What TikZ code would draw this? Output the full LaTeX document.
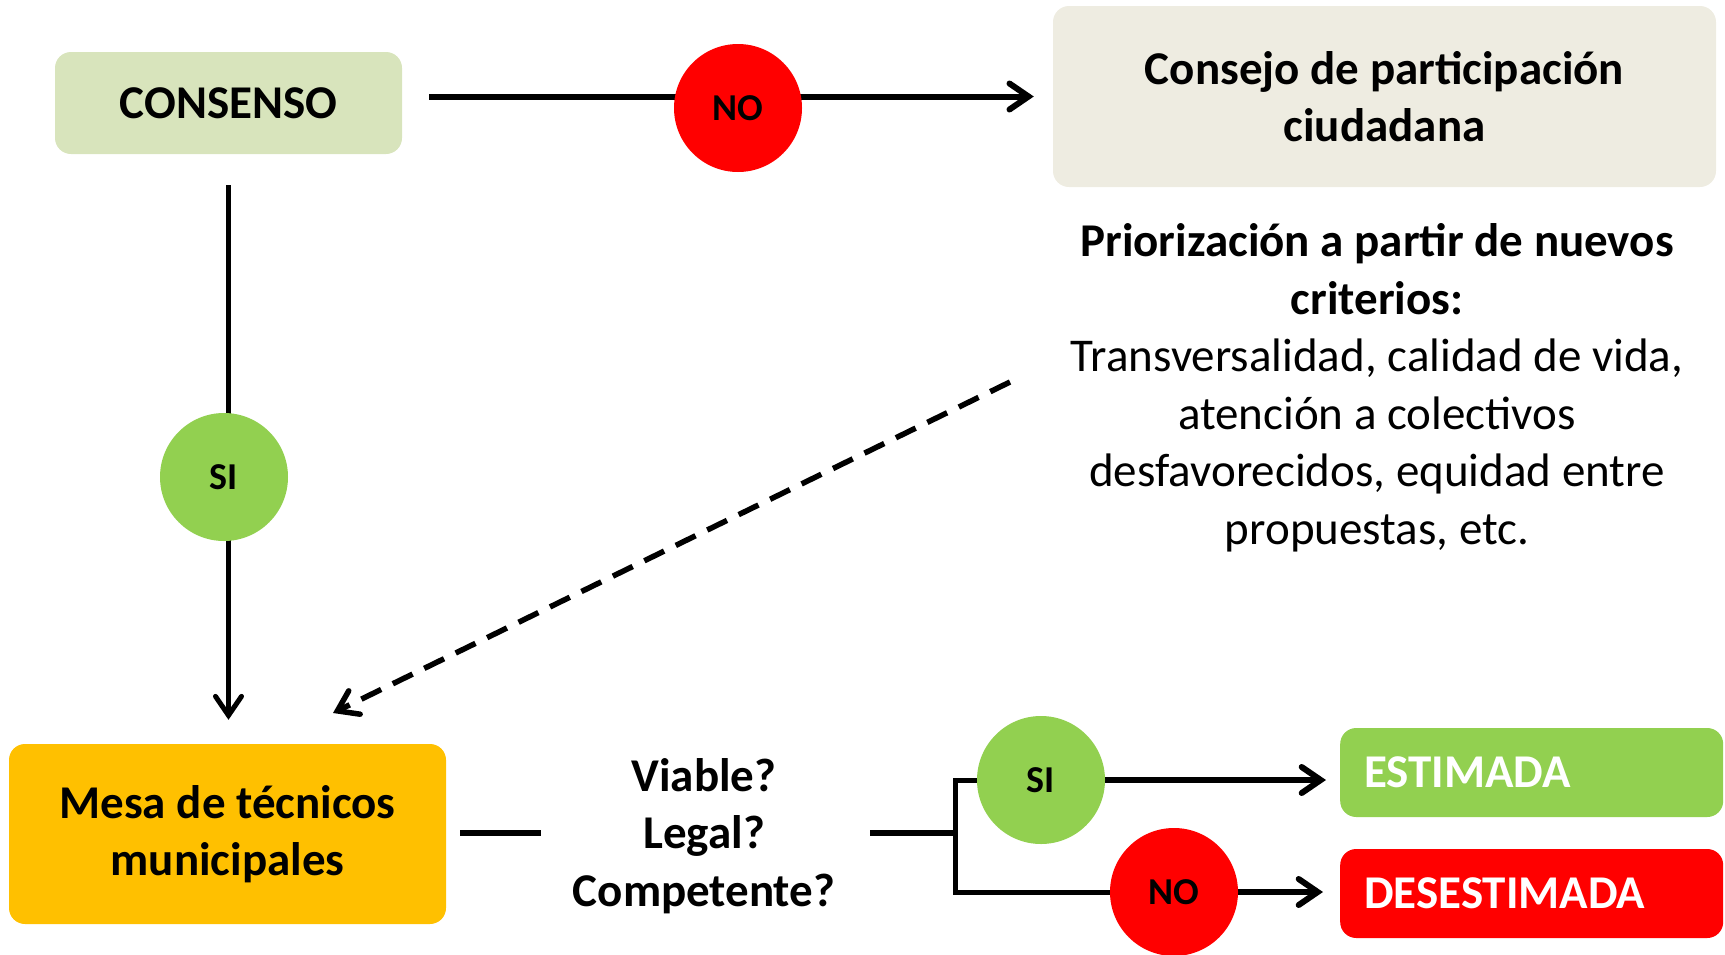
\documentclass[tikz,border=0pt]{standalone}
\usepackage{fontspec}
\setmainfont{Carlito}
\usetikzlibrary{arrows.meta,backgrounds}
\definecolor{consgreen}{HTML}{D8E4BC}
\definecolor{beige}{HTML}{EEECE1}
\definecolor{sigreen}{HTML}{92D050}
\definecolor{nored}{HTML}{FF0000}
\definecolor{amber}{HTML}{FFC000}
\begin{document}
\begin{tikzpicture}[x=1pt,y=-1pt,
  box/.style={rounded corners=16pt, inner sep=0pt, align=center, font=\fontsize{47}{57.5}\selectfont\bfseries},
  dot/.style={circle, minimum size=128pt, inner sep=0pt, font=\fontsize{38}{42}\selectfont\bfseries},
  conn/.style={line width=6pt},
  arr/.style={conn, -{Straight Barb[length=19pt,width=26pt,line cap=round]}},
  txt/.style={inner sep=0pt, align=center, font=\fontsize{47}{57.5}\selectfont},
]
\useasboundingbox (0,0) rectangle (1725,954);
\node[box, fill=consgreen, minimum width=347pt, minimum height=102pt] (cons) at (228.5,103) {CONSENSO};
\node[box, fill=beige, minimum width=663pt, minimum height=181pt] (consejo) at (1384.5,96.5) {Consejo de participación\\ciudadana};
\node[dot, fill=nored] (no1) at (738,108) {NO};
\node[dot, fill=sigreen] (si1) at (224,477) {SI};
\node[box, fill=amber, minimum width=437pt, minimum height=180pt] (mesa) at (227.5,834) {Mesa de técnicos\\municipales};
\node[txt] (prio) at (1377,388) {\textbf{Priorización a partir de nuevos}\\\textbf{criterios:}\\Transversalidad, calidad de vida,\\atención a colectivos\\desfavorecidos, equidad entre\\propuestas, etc.};
\node[txt, font=\fontsize{47}{57.5}\selectfont\bfseries] (viable) at (704,836) {Viable?\\Legal?\\Competente?};
\node[dot, fill=sigreen] (si2) at (1041,780) {SI};
\node[dot, fill=nored] (no2) at (1174,892) {NO};
\node[box, fill=sigreen, text=white, anchor=west, minimum height=89pt, text width=335pt, inner xsep=24pt, align=left] (est) at (1340,772.5) {ESTIMADA};
\node[box, fill=nored, text=white, anchor=west, minimum height=89pt, text width=335pt, inner xsep=24pt, align=left] (desest) at (1340,893.5) {DESESTIMADA};
\coordinate (br) at (955,833);
\coordinate (dA) at (1010,382);
\coordinate (dB) at (333,713);
\begin{scope}[on background layer]
  \draw[arr, shorten <=27pt, shorten >=19pt] (cons.east |- consejo.west) -- (consejo.west);
  \draw[arr, line width=5pt, shorten <=31pt, shorten >=24pt] (cons.south) -- (cons.south |- mesa.north);
  \draw[arr, line width=5.5pt, dash pattern=on 22pt off 13pt] (dA) -- (dB);
  \draw[conn, shorten <=14pt, shorten >=32pt] (mesa.east |- br) -- (viable.west |- br);
  \draw[conn, shorten <=35pt] (viable.east |- br) -- (br);
  \draw[conn, line width=5pt] (si2) -| (br) |- (no2);
  \draw[arr, shorten >=14pt] (si2) -- (si2 -| est.west);
  \draw[arr, shorten >=17pt] (no2) -- (no2 -| desest.west);
\end{scope}
\end{tikzpicture}
\end{document}
